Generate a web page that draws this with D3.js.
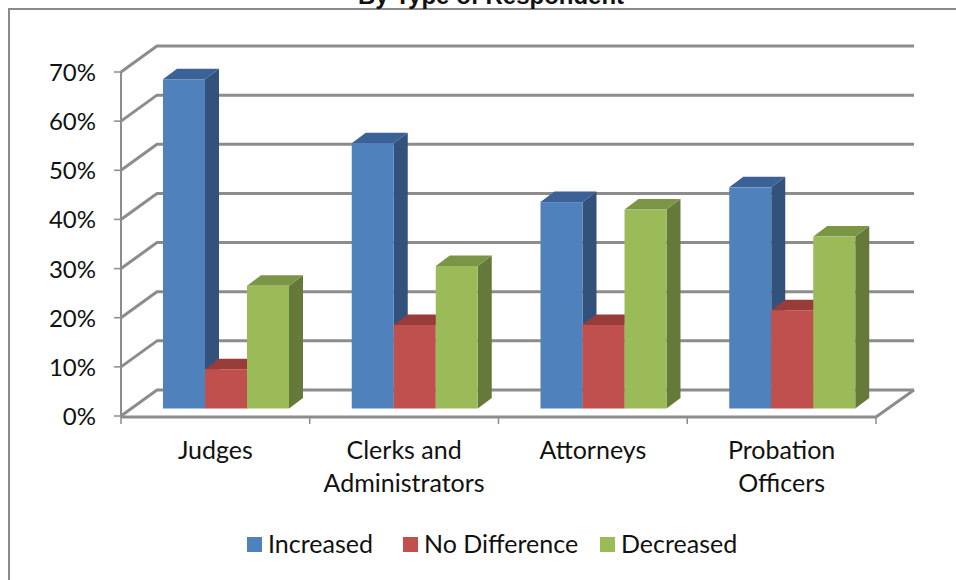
<!DOCTYPE html>
<html>
<head>
<meta charset="utf-8">
<script src="https://cdn.jsdelivr.net/npm/d3@7"></script>
<style>
html, body { margin: 0; padding: 0; background: #fff; overflow: hidden; }
text { font-family: Lato, "Open Sans", sans-serif; fill: #111; }
</style>
</head>
<body>
<svg id="chart" width="956" height="580"></svg>
<script>
const categories = [['Judges'], ['Clerks and', 'Administrators'], ['Attorneys'], ['Probation', 'Officers']];
const seriesNames = ['Increased', 'No Difference', 'Decreased'];
const increased = [67, 54, 42, 45];
const noDifference = [8, 17, 17, 20];
const decreased = [25, 29, 40.5, 35];
const yTicks = [0, 10, 20, 30, 40, 50, 60, 70];
const seriesValues = [increased, noDifference, decreased];

const front = ['#4f81bd', '#c0504d', '#9bbb59'];
const side = ['#33527b', '#7d3432', '#657a3a'];
const top_ = ['#3b6196', '#983c3a', '#7b9547'];

const svg = d3.select('#chart');

// frame, clipped by the window on the right and bottom as in the picture
svg.append('rect')
    .attr('x', 9).attr('y', 9)
    .attr('width', 1000).attr('height', 1000)
    .attr('fill', 'none')
    .attr('stroke', '#8a8a8a')
    .attr('stroke-width', 2);

svg.append('text')
    .attr('x', 491).attr('y', 4)
    .attr('text-anchor', 'middle')
    .style('font-family', '"Liberation Sans", sans-serif')
    .style('font-size', '24px')
    .style('font-weight', 700)
    .text('By Type of Respondent');

const y = d3.scaleLinear().domain([0, 70]).range([416, 72]);
const x0 = d3.scaleBand().domain(d3.range(categories.length)).range([121, 876]);
const x1 = d3.scaleBand().domain(d3.range(seriesNames.length)).range([42, 168]);

// offsets of the 3d box: back wall, and the depth of a bar
const wallDx = 36, wallDy = -26;
const barDx = 14, barDy = -10.5;
const baseDy = -7.5;

const gridColor = '#8c8c8c';
const grid = svg.append('g').attr('fill', 'none').attr('stroke', gridColor).attr('stroke-width', 3);

grid.selectAll('path.wall')
    .data(yTicks)
    .enter()
    .append('path')
    .attr('class', 'wall')
    .attr('stroke-linejoin', 'round')
    .attr('d', d => `M121,${y(d)}L${121 + wallDx},${y(d) + wallDy}L914,${y(d) + wallDy}`);

// front axis lines and ticks
const axis = svg.append('g').attr('stroke', gridColor).attr('fill', 'none');
axis.append('path').attr('stroke-width', 2).attr('d', `M121,${y(70)}V${y(0)}`);
axis.append('path').attr('stroke-width', 3).attr('d', `M121,${y(0) + 1}H876L914,${y(0) + wallDy}`);
axis.selectAll('path.ytick')
    .data(yTicks)
    .enter()
    .append('path')
    .attr('class', 'ytick')
    .attr('stroke-width', 1.5)
    .attr('d', d => `M114,${y(d)}H121`);
axis.selectAll('path.xtick')
    .data(d3.range(categories.length + 1))
    .enter()
    .append('path')
    .attr('class', 'xtick')
    .attr('stroke-width', 1.5)
    .attr('d', i => `M${121 + i * x0.step()},${y(0)}v8`);

svg.append('g').selectAll('text')
    .data(yTicks)
    .enter()
    .append('text')
    .attr('x', 96).attr('y', d => y(d) + 9)
    .attr('text-anchor', 'end')
    .style('font-size', '24px')
    .text(d => d + '%');

// bars, left to right so each front face covers the side of its left neighbour
const groups = svg.append('g').selectAll('g.group')
    .data(categories.map((c, i) => i))
    .enter()
    .append('g')
    .attr('class', 'group')
    .attr('transform', i => `translate(${x0(i)},${baseDy})`);

const bars = groups.selectAll('g.bar')
    .data(i => seriesNames.map((s, k) => ({ k, value: seriesValues[k][i] })))
    .enter()
    .append('g')
    .attr('class', 'bar');

bars.append('path')
    .attr('fill', d => side[d.k])
    .attr('d', d => {
        const r = x1(d.k) + x1.bandwidth();
        return `M${r},${y(0)}V${y(d.value)}l${barDx},${barDy}V${y(0) + barDy}Z`;
    });
bars.append('path')
    .attr('fill', d => top_[d.k])
    .attr('d', d => {
        const l = x1(d.k);
        return `M${l},${y(d.value)}l${barDx},${barDy}h${x1.bandwidth()}l${-barDx},${-barDy}Z`;
    });
bars.append('rect')
    .attr('x', d => x1(d.k))
    .attr('y', d => y(d.value))
    .attr('width', x1.bandwidth())
    .attr('height', d => y(0) - y(d.value))
    .attr('fill', d => front[d.k]);

// category labels
const labels = svg.append('g').selectAll('text')
    .data(categories)
    .enter()
    .append('text')
    .attr('text-anchor', 'middle')
    .style('font-size', '25px');
labels.selectAll('tspan')
    .data((d, i) => d.map((line, n) => ({ line, n, i })))
    .enter()
    .append('tspan')
    .attr('x', d => x0(d.i) + x0.bandwidth() / 2)
    .attr('y', d => 459 + d.n * 33)
    .text(d => d.line);

// legend
const legendX = [247, 403, 600];
const legend = svg.append('g').selectAll('g')
    .data(seriesNames)
    .enter()
    .append('g')
    .attr('transform', (d, i) => `translate(${legendX[i]},537)`);
legend.append('rect')
    .attr('width', 15).attr('height', 15)
    .attr('fill', (d, i) => front[i]);
legend.append('text')
    .attr('x', 21).attr('y', 16)
    .style('font-size', '25px')
    .text(d => d);
</script>
</body>
</html>
